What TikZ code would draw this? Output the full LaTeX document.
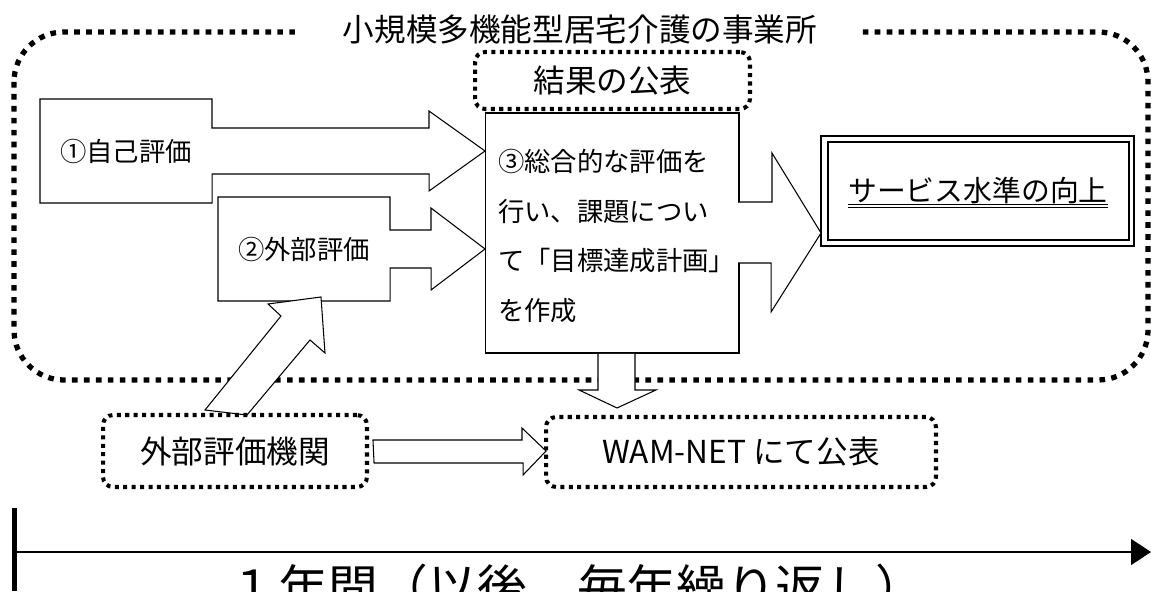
\documentclass[tikz,border=0pt]{standalone}
\usepackage{fontspec}
\setmainfont{Noto Sans CJK JP}
\usetikzlibrary{calc,arrows.meta}

\begin{document}
\begin{tikzpicture}[x=0.02cm, y=-0.02cm,
    every node/.style={inner sep=0pt, outer sep=0pt},
    bigdots/.style={line width=3pt, dash pattern=on 3.2pt off 3.6pt},
    smalldots/.style={line width=2.3pt, dash pattern=on 2.3pt off 2.5pt, rounded corners=0.2cm},
    outline/.style={line width=0.6pt},
    blockarrow/.style={outline, fill=white},
    bigfont/.style={font=\fontsize{18}{22}\selectfont},
    midfont/.style={font=\fontsize{15}{28.3}\selectfont}]

    \useasboundingbox (0,0) rectangle (1151,591);

    % office frame with its title
    \draw[bigdots, rounded corners=1cm] (14,32) rectangle (1148,380);
    \node[bigfont, fill=white, minimum width=11.2cm, minimum height=0.8cm]
        (office) at (580,30) {小規模多機能型居宅介護の事業所};

    \node[draw, smalldots, bigfont, minimum width=5.5cm, minimum height=1.14cm]
        (publish) at (612.5,80.5) {結果の公表};

    % step 3
    \node[draw, outline, minimum width=5.08cm, minimum height=4.8cm] (plan) at (612,233) {};
    \node[midfont, align=left, anchor=west] (plantext) at (498,236)
        {③総合的な評価を\\行い、課題につい\\て「目標達成計画」\\を作成};

    % step 1 and step 2
    \node[midfont, minimum width=3.44cm, minimum height=2.08cm] (self) at (126,151) {①自己評価};
    \draw[outline] (self.north west) -- (self.north east) -- ++(0,29) -- ++(217,0)
        -- ++(0,-17) -- (self.east -| plan.west) -- ++(-56,40) -- ++(0,-17)
        -- ++(-217,0) -- ++(0,29) -- (self.south west) -- cycle;

    \node[midfont, minimum width=3.44cm, minimum height=2.08cm] (ext) at (304,249) {②外部評価};
    \draw[outline] (ext.north west) -- (ext.north east) -- ++(0,33) -- ++(41,0)
        -- ++(0,-22) -- (ext.east -| plan.west) -- ++(-54,41) -- ++(0,-22)
        -- ++(-41,0) -- ++(0,33) -- (ext.south west) -- cycle;

    % result
    \node[draw, line width=1.3pt, minimum width=6.26cm, minimum height=2.2cm] (svc) at (977.5,191) {};
    \draw[line width=1pt] ($(svc.north west)+(7,6)$) rectangle ($(svc.south east)+(-5,-6)$);
    \node[font=\fontsize{16.4}{20}\selectfont] (svctext) at (978,190) {サービス水準の向上};
    \draw[line width=0.7pt] ($(svctext.south west)+(0,1)$) -- ($(svctext.south east)+(0,1)$);
    \draw[line width=0.7pt] ($(svctext.south west)+(0,4.5)$) -- ($(svctext.south east)+(0,4.5)$);

    \fill[white] ($(plan.east)+(-1.5,-30)$) rectangle ($(plan.east)+(1.5,29)$);
    \filldraw[blockarrow] ($(plan.east)+(0,-31)$) -- ++(33,0) -- ++(0,-49)
        -- (plan.east -| svc.west) -- ++(-50,79) -- ++(0,-49) -- ++(-33,0);

    % publication
    \filldraw[blockarrow] ($(plan.south)+(-14,1)$) -- ++(0,36) -- ++(-19,0) -- ++(38,18)
        -- ++(39,-18) -- ++(-21,0) -- ++(0,-36);

    \coordinate (agencytop) at (205,410);
    \filldraw[blockarrow] (agencytop) -- ++(76,-94) -- ++(-13,-12) -- ($(ext.south)+(17,-4)$)
        -- ++(4,56) -- ++(-15,-13) -- ($(agencytop)+(42,5)$) -- cycle;

    \node[draw, smalldots, bigfont, minimum width=5.28cm, minimum height=1.44cm]
        (agency) at (235,451) {外部評価機関};
    \node[draw, smalldots, bigfont, minimum width=7.8cm, minimum height=1.4cm]
        (wam) at (741,452) {WAM-NET にて公表};
    \filldraw[blockarrow] ($(agency.east)+(6,-11)$) -- ++(149,0) -- ++(0,-12)
        -- (agency.east -| wam.west) -- ++(-23,24) -- ++(0,-12) -- ++(-149,0) -- cycle;

    % time line
    \coordinate (start) at (14.5,552);
    \coordinate (end) at (1151,552);
    \draw[line width=2.8pt] (14.5,508) -- (14.5,591);
    \draw[line width=0.9pt, -{Triangle[length=0.4cm, width=0.52cm]}] (start) -- (end);
    \node[font=\fontsize{28.3}{34}\selectfont] (year) at (577,588) {１年間（以後、毎年繰り返し）};
\end{tikzpicture}
\end{document}
